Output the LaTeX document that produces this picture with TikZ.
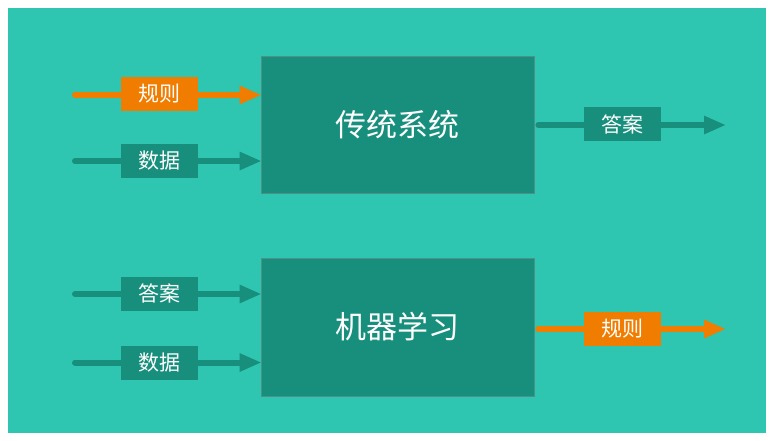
\documentclass[tikz,border=0pt]{standalone}
\usepackage{fontspec}
\newfontfamily\cjk{Noto Sans CJK SC}
\usetikzlibrary{arrows.meta}
\definecolor{bgteal}{HTML}{2EC5B1}
\definecolor{darkteal}{HTML}{178F7C}
\definecolor{orng}{HTML}{F07C00}
\definecolor{edgegray}{HTML}{4F8F86}
\tikzset{
  bigbox/.style={draw=edgegray, line width=0.8pt, fill=darkteal, minimum width=273pt, minimum height=137pt, inner sep=0pt, text=white, font=\cjk\fontsize{31}{36}\selectfont},
  tag/.style={fill=#1, minimum width=77pt, minimum height=34pt, inner sep=0pt, text=white, font=\cjk\fontsize{21}{25}\selectfont},
  flow/.style={draw=#1, line width=6pt, line cap=round, -{Triangle[length=22pt,width=17pt]}},
}
\begin{document}
\begin{tikzpicture}[x=1pt,y=-1pt]
\useasboundingbox (0,0) rectangle (774,440);
\fill[white] (0,0) rectangle (774,440);
\fill[bgteal] (8,8) rectangle (766,433);
% big boxes
\node[bigbox] (trad) at (397.5,124.5) {传统系统};
\node[bigbox, minimum height=138pt] (ml) at (397.5,327) {机器学习};
% coordinates
\coordinate (s1) at (75,95);
\coordinate (s2) at (75,161);
\coordinate (s3) at (75,294);
\coordinate (s4) at (75,362.5);
\coordinate (e5) at (726,125);
\coordinate (e6) at (726,329);
% connectors
\draw[flow=orng] (s1) -- ([xshift=1pt]trad.west |- s1);
\draw[flow=darkteal] (s2) -- ([xshift=1pt]trad.west |- s2);
\draw[flow=darkteal] (s3) -- ([xshift=1pt]ml.west |- s3);
\draw[flow=darkteal] (s4) -- ([xshift=1pt]ml.west |- s4);
\draw[flow=darkteal] ([xshift=4pt]trad.east |- e5) -- (e5);
\draw[flow=orng] ([xshift=4pt]ml.east |- e6) -- (e6);
% labels
\node[tag=orng] (r1) at (159.5,94) {规则};
\node[tag=darkteal] (d1) at (159.5,161) {数据};
\node[tag=darkteal] (a2) at (159.5,293.5) {答案};
\node[tag=darkteal] (d2) at (159.5,362.5) {数据};
\node[tag=darkteal] (a1) at (622,124) {答案};
\node[tag=orng] (r2) at (622.5,329) {规则};
\end{tikzpicture}
\end{document}
